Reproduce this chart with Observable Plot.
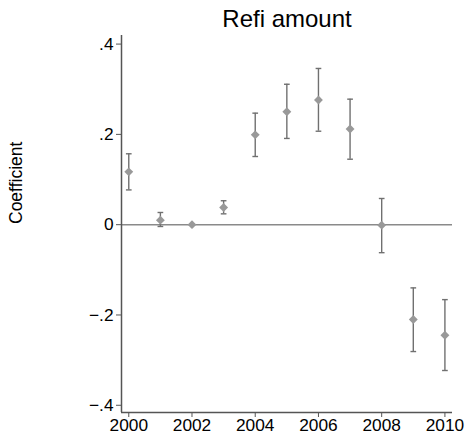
<!DOCTYPE html>
<html><head><meta charset="utf-8">
<script src="https://cdn.jsdelivr.net/npm/d3@7"></script>
<script src="https://cdn.jsdelivr.net/npm/@observablehq/plot@0.6"></script>
<style>
body{margin:0;background:#fff}
svg{display:block}
</style>
</head><body><div id="chart"></div>
<script>
const years  = [2000, 2001, 2002, 2003, 2004, 2005, 2006, 2007, 2008, 2009, 2010];
const coef   = [0.117, 0.010, 0.000, 0.038, 0.199, 0.250, 0.276, 0.212, -0.001, -0.210, -0.245];
const ciLow  = [0.077, -0.004, 0.000, 0.024, 0.151, 0.191, 0.207, 0.145, -0.062, -0.281, -0.323];
const ciHigh = [0.157, 0.027, 0.000, 0.053, 0.247, 0.311, 0.346, 0.278, 0.058, -0.140, -0.166];
const xTicks = [2000, 2002, 2004, 2006, 2008, 2010];
const yTicks = [-0.4, -0.2, 0, 0.2, 0.4];
const xDomain = [1999.77, 2010.24];
const yDomain = [-0.416, 0.419];
const titleText = "Refi amount";
const yLabelText = "Coefficient";

const data = years.map((year, i) => ({year, coef: coef[i], lo: ciLow[i], hi: ciHigh[i]}));
const withCI = data.filter(d => d.hi !== d.lo);
const capHalf = 0.09;
const fmtY = d => d === 0 ? "0" : (d < 0 ? "\u2212" : "") + String(Math.abs(d)).replace(/^0/, "");
const tickFont = 17.3;

const chart = Plot.plot({
  width: 465,
  height: 434,
  marginLeft: 121,
  marginRight: 13,
  marginTop: 35,
  marginBottom: 22,
  style: {fontFamily: "'Liberation Sans', Arial, sans-serif", fontSize: "17px", color: "#000", background: "#fff"},
  x: {domain: xDomain},
  y: {domain: yDomain},
  marks: [
    Plot.axisX({ticks: xTicks, tickFormat: d => String(d), tickSize: 5, tickPadding: 1, fontSize: tickFont, stroke: "#555", fill: "#000", label: null}),
    Plot.axisY({ticks: yTicks, tickFormat: fmtY, tickSize: 5, tickPadding: 3, fontSize: tickFont, stroke: "#555", fill: "#000", label: null}),
    Plot.ruleY([0], {stroke: "#8a8a8a", strokeWidth: 1.6}),
    Plot.ruleX([xDomain[0]], {stroke: "#555", strokeWidth: 1.5}),
    Plot.ruleY([yDomain[0]], {stroke: "#555", strokeWidth: 1.5}),
    Plot.ruleX(withCI, {x: "year", y1: "lo", y2: "hi", stroke: "#707070", strokeWidth: 1.4}),
    Plot.link(withCI, {x1: d => d.year - capHalf, x2: d => d.year + capHalf, y1: "lo", y2: "lo", stroke: "#707070", strokeWidth: 1.4}),
    Plot.link(withCI, {x1: d => d.year - capHalf, x2: d => d.year + capHalf, y1: "hi", y2: "hi", stroke: "#707070", strokeWidth: 1.4}),
    Plot.dot(data, {x: "year", y: "coef", symbol: "diamond2", r: 4.0, fill: "#999", stroke: "none"}),
    Plot.text([titleText], {frameAnchor: "top", lineAnchor: "bottom", dy: -8.3, fontSize: 24, fill: "#000"}),
    Plot.text([yLabelText], {frameAnchor: "left", rotate: -90, dx: -105, fontSize: 17.5, fill: "#000"})
  ]
});
document.getElementById("chart").appendChild(chart);
</script>
</body></html>
